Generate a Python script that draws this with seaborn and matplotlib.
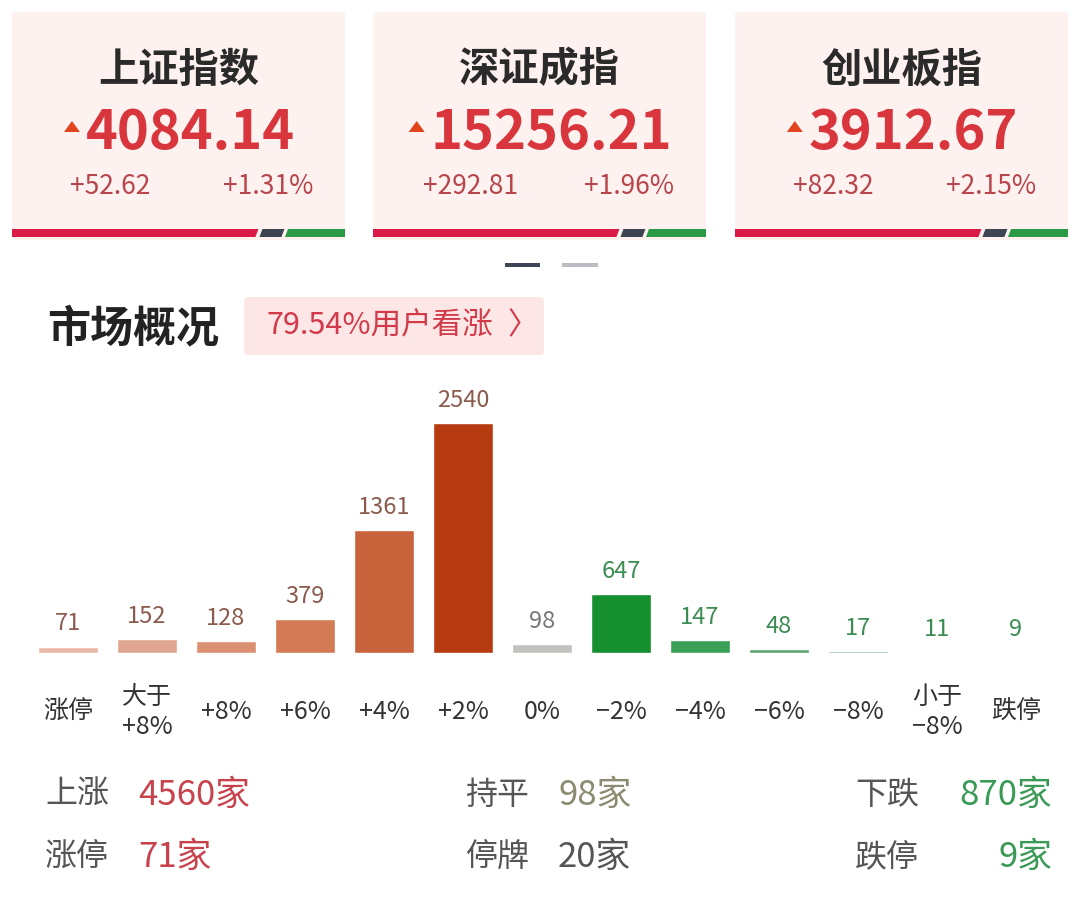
import matplotlib
matplotlib.use("Agg")
import matplotlib.pyplot as plt
from matplotlib.patches import FancyBboxPatch, Polygon, Rectangle
import seaborn as sns

# ---- data ----
index_names = ["上证指数", "深证成指", "创业板指"]
index_values = ["4084.14", "15256.21", "3912.67"]
index_changes = ["+52.62", "+292.81", "+82.32"]
index_pcts = ["+1.31%", "+1.96%", "+2.15%"]

categories = ["涨停", "大于\n+8%", "+8%", "+6%", "+4%", "+2%", "0%",
              "−2%", "−4%", "−6%", "−8%", "小于\n−8%", "跌停"]
counts = [71, 152, 128, 379, 1361, 2540, 98, 647, 147, 48, 17, 11, 9]
bar_colors = ["#e9b9a6", "#e0a58e", "#da9071", "#d47a55", "#c9633c", "#b73b10",
              "#c2c2be", "#16902f", "#3ba057", "#5da470", "#86b597", "#c5d2c9", "#dfe4e0"]
label_colors = ["#8a5a4c"] * 6 + ["#777777"] + ["#3a8c52"] * 6

stat_rows = [
    [("上涨", "4560家", "#c8424c"), ("持平", "98家", "#8c8a70"), ("下跌", "870家", "#3a9a55")],
    [("涨停", "71家", "#c8424c"), ("停牌", "20家", "#555555"), ("跌停", "9家", "#3a9a55")],
]

sns.set_style("white")
plt.rcParams['font.family'] = ['Noto Sans CJK SC', 'DejaVu Sans']

W, H = 1080, 914
fig = plt.figure(figsize=(W / 100, H / 100), dpi=100)
fig.patch.set_facecolor("white")


def fx(x):
    return x / W


def fy(y):
    return 1 - y / H


# ---- index cards ----
card_left = [12, 373, 735]
card_w = 333
for i in range(3):
    x0 = card_left[i]
    fig.patches.append(FancyBboxPatch((fx(x0), fy(240)), fx(card_w), 228 / H,
                                      boxstyle="round,pad=0,rounding_size=0.004",
                                      transform=fig.transFigure, facecolor="#fdf2f0",
                                      edgecolor="none", zorder=0))
    cx = x0 + card_w / 2
    fig.text(fx(cx), fy(70), index_names[i], ha="center", va="center",
             fontsize=29, fontweight="bold", color="#2a2a2a")
    t = fig.text(fx(cx + 12), fy(133), index_values[i], ha="center", va="center",
                 fontsize=39, fontweight="bold", color="#d8363c")
    # small triangle left of the number
    fig.canvas.draw()
    bb = t.get_window_extent()
    tx = bb.x0 - 14
    fig.patches.append(Polygon([(fx(tx - 8), fy(132)), (fx(tx + 8), fy(132)), (fx(tx), fy(121))],
                               closed=True, transform=fig.transFigure,
                               facecolor="#e2451e", edgecolor="none"))
    fig.text(fx(x0 + 98), fy(187), index_changes[i], ha="center", va="center",
             fontsize=19, color="#b8454b")
    fig.text(fx(x0 + 256), fy(187), index_pcts[i], ha="center", va="center",
             fontsize=19, color="#b8454b")
    # red / dark / green strip
    r_end = x0 + card_w * 0.74
    d_end = r_end + 26
    sk = 3
    segs = [
        [(x0, 237), (r_end - sk, 237), (r_end, 229), (x0, 229)],
        [(r_end + 4 - sk, 237), (d_end - sk, 237), (d_end, 229), (r_end + 4, 229)],
        [(d_end + 4 - sk, 237), (x0 + card_w, 237), (x0 + card_w, 229), (d_end + 4, 229)],
    ]
    for pts, c in zip(segs, ["#dc1a47", "#3e4552", "#2b9a47"]):
        fig.patches.append(Polygon([(fx(p), fy(q)) for p, q in pts], closed=True,
                                   transform=fig.transFigure, facecolor=c, edgecolor="none"))

# page indicator
fig.patches.append(Rectangle((fx(505), fy(267)), fx(35), 4 / H, transform=fig.transFigure,
                             facecolor="#3c4654", edgecolor="none"))
fig.patches.append(Rectangle((fx(562), fy(267)), fx(36), 4 / H, transform=fig.transFigure,
                             facecolor="#b9bdc2", edgecolor="none"))

# ---- section header ----
fig.text(fx(47), fy(328), "市场概况", ha="left", va="center", fontsize=31,
         fontweight="bold", color="#222222")
fig.patches.append(FancyBboxPatch((fx(244), fy(355)), fx(300), 58 / H,
                                  boxstyle="round,pad=0,rounding_size=0.004",
                                  transform=fig.transFigure, facecolor="#fce6e6",
                                  edgecolor="none"))
fig.text(fx(267), fy(326), "79.54%用户看涨", ha="left", va="center", fontsize=22,
         color="#d23a4a")
fig.text(fx(507), fy(326), "〉", ha="left", va="center", fontsize=22, color="#d23a4a")

# ---- bar chart ----
base_y = 653
ax_h = 300
ax = fig.add_axes([fx(28.5), fy(base_y), fx(1027), ax_h / H])
sns.barplot(x=categories, y=counts, hue=categories, palette=bar_colors, legend=False,
            saturation=1, width=0.76, ax=ax)
ax.set_xlim(-0.5, len(categories) - 0.5)
ax.set_ylim(0, ax_h / (230 / 2540))
ax.axis("off")
for i, v in enumerate(counts):
    ax.annotate(str(v), (i, v), xytext=(0, 8), textcoords="offset points",
                ha="center", va="bottom", fontsize=17, color=label_colors[i])
for i, lab in enumerate(categories):
    ax.text(i, -59 / ax_h, lab, transform=ax.get_xaxis_transform(), ha="center",
            va="center", fontsize=18, color="#333333", linespacing=1.2)

# ---- bottom stats ----
row_y = [795, 857]
for r, row in enumerate(stat_rows):
    (l1, v1, c1), (l2, v2, c2), (l3, v3, c3) = row
    fig.text(fx(45), fy(row_y[r]), l1, ha="left", va="center", fontsize=23, color="#555555")
    fig.text(fx(138), fy(row_y[r]), v1, ha="left", va="center", fontsize=25, color=c1)
    fig.text(fx(465), fy(row_y[r]), l2, ha="left", va="center", fontsize=23, color="#555555")
    fig.text(fx(558), fy(row_y[r]), v2, ha="left", va="center", fontsize=25, color=c2)
    fig.text(fx(855), fy(row_y[r]), l3, ha="left", va="center", fontsize=23, color="#555555")
    fig.text(fx(1052), fy(row_y[r]), v3, ha="right", va="center", fontsize=25, color=c3)

fig.savefig("out.png", dpi=100, facecolor="white")
